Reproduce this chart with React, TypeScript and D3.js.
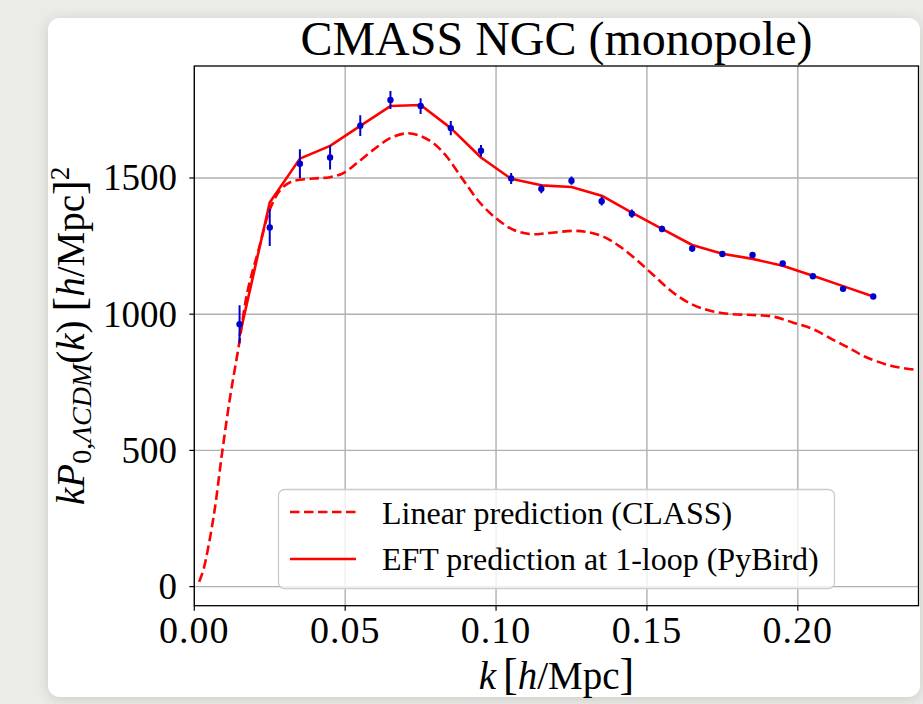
import React from "react";
import * as d3 from "d3";

// ---------------- data ----------------
const dataK = [0.015, 0.025, 0.035, 0.045, 0.055, 0.065, 0.075, 0.085, 0.095, 0.105, 0.115,
  0.125, 0.135, 0.145, 0.155, 0.165, 0.175, 0.185, 0.195, 0.205, 0.215, 0.225];
const dataP = [963, 1318, 1552, 1575, 1692, 1786, 1764, 1683, 1600, 1498, 1460,
  1490, 1415, 1369, 1313, 1241, 1221, 1217, 1186, 1139, 1093, 1065];
const dataErr = [70, 68, 53, 44, 38, 33, 29, 26, 21, 20, 16,
  15, 16, 15, 12, 12, 10, 10, 9, 8, 8, 7];

const eftP = [920, 1410, 1571, 1618, 1691, 1764, 1768, 1683, 1575, 1497, 1473,
  1467, 1435, 1373, 1313, 1254, 1222, 1203, 1178, 1141, 1103, 1065];

const linK = [0.0016, 0.003, 0.0064, 0.0092, 0.0119, 0.0147, 0.0175, 0.0213, 0.0252, 0.0285,
  0.0323, 0.0395, 0.045, 0.0494, 0.0538, 0.0593, 0.0649, 0.0704, 0.0748, 0.0792, 0.0836,
  0.0891, 0.0946, 0.1002, 0.1057, 0.1113, 0.1168, 0.1256, 0.13, 0.1355, 0.1411, 0.1466,
  0.1521, 0.1576, 0.1632, 0.1698, 0.1775, 0.1853, 0.1919, 0.1985, 0.2051, 0.2117, 0.2172,
  0.2223, 0.2311, 0.24];
const linP = [18, 61, 257, 490, 698, 881, 1077, 1236, 1389, 1456,
  1487, 1498, 1503, 1518, 1554, 1603, 1646, 1664, 1655, 1628, 1579,
  1493, 1410, 1350, 1310, 1294, 1297, 1306, 1302, 1285, 1248, 1199,
  1144, 1089, 1046, 1016, 1001, 997, 991, 969, 945, 906, 875,
  844, 810, 795];

const xTicks = [0, 0.05, 0.1, 0.15, 0.2];
const yTicks = [0, 500, 1000, 1500];
const legendLabels = ["Linear prediction (CLASS)", "EFT prediction at 1-loop (PyBird)"];
const title = "CMASS NGC (monopole)";

// ---------------- layout ----------------
const W = 923, H = 704;
const L = 194.3, R = 918.5, T = 66, B = 605.7;
const FONT = "'Liberation Serif', 'Times New Roman', serif";

export default function App() {
  const x = d3.scaleLinear().domain([0, 0.24]).range([L, R]);
  const y = d3.scaleLinear().domain([-70, 1911]).range([B, T]);

  const linLine = d3.line<number>()
    .x((_, i) => x(linK[i]))
    .y((d) => y(d))
    .curve(d3.curveCatmullRom.alpha(0.5));
  const eftLine = d3.line<number>()
    .x((_, i) => x(dataK[i]))
    .y((d) => y(d));

  const red = "#ff0000";
  const blue = "#0000cd";
  const grid = "#b0b0b0";

  return (
    <svg width={W} height={H} viewBox={`0 0 ${W} ${H}`}
      style={{ position: "absolute", left: 0, top: 0, display: "block" }}
      fontFamily={FONT}>
      <defs>
        <filter id="shadow" x="-10%" y="-10%" width="120%" height="120%">
          <feGaussianBlur in="SourceAlpha" stdDeviation="7" />
          <feOffset dx="0" dy="2" result="b" />
          <feComponentTransfer><feFuncA type="linear" slope="0.15" /></feComponentTransfer>
          <feMerge><feMergeNode /><feMergeNode in="SourceGraphic" /></feMerge>
        </filter>
        <clipPath id="plotclip"><rect x={L} y={T} width={R - L} height={B - T} /></clipPath>
      </defs>
      <rect x={0} y={0} width={W} height={H} fill="#ebebe7" />
      <rect x={48} y={18} width={872} height={679} rx={12} fill="#ffffff" filter="url(#shadow)" />

      {/* title */}
      <text x={(L + R) / 2} y={55} textAnchor="middle" fontSize={48} fill="#000">{title}</text>

      {/* grid */}
      <g>
        {xTicks.map((t) => (
          <line key={"gx" + t} x1={x(t)} x2={x(t)} y1={T} y2={B} stroke={grid} strokeWidth={1.4} />
        ))}
        {yTicks.map((t) => (
          <line key={"gy" + t} x1={L} x2={R} y1={y(t)} y2={y(t)} stroke={grid} strokeWidth={1.4} />
        ))}
      </g>

      <g clipPath="url(#plotclip)">
        <path d={linLine(linP) || ""} fill="none" stroke={red} strokeWidth={2.6}
          strokeDasharray="9.5 4.5" />
        <path d={eftLine(eftP) || ""} fill="none" stroke={red} strokeWidth={2.6}
          strokeLinejoin="round" />
        {dataK.map((k, i) => (
          <g key={"d" + k}>
            <line x1={x(k)} x2={x(k)} y1={y(dataP[i] - dataErr[i])} y2={y(dataP[i] + dataErr[i])}
              stroke={blue} strokeWidth={2} />
            <circle cx={x(k)} cy={y(dataP[i])} r={3.2} fill={blue} />
          </g>
        ))}
      </g>

      {/* frame */}
      <rect x={L} y={T} width={R - L} height={B - T} fill="none" stroke="#000" strokeWidth={1.3} />

      {/* x ticks */}
      {xTicks.map((t) => (
        <g key={"xt" + t}>
          <line x1={x(t)} x2={x(t)} y1={B} y2={B + 5} stroke="#000" strokeWidth={1.2} />
          <text x={x(t)} y={643} textAnchor="middle" fontSize={38} letterSpacing={1}>{t.toFixed(2)}</text>
        </g>
      ))}
      {/* y ticks */}
      {yTicks.map((t) => (
        <g key={"yt" + t}>
          <line x1={L - 5} x2={L} y1={y(t)} y2={y(t)} stroke="#000" strokeWidth={1.2} />
          <text x={177} y={y(t) + 12.5} textAnchor="end" fontSize={37}>{t}</text>
        </g>
      ))}

      {/* x label */}
      <text x={(L + R) / 2} y={689} textAnchor="middle" fontSize={39}>
        <tspan fontStyle="italic">k</tspan>
        <tspan dx={7} fontSize={44}>[</tspan>
        <tspan fontStyle="italic">h</tspan>
        <tspan>/Mpc</tspan>
        <tspan fontSize={44}>]</tspan>
      </text>

      {/* y label */}
      <text transform={`translate(84,${(T + B) / 2}) rotate(-90)`} textAnchor="middle" fontSize={39}>
        <tspan fontStyle="italic">kP</tspan>
        <tspan fontSize={28} dy={7}>0,</tspan>
        <tspan fontSize={28} fontStyle="italic">ΛCDM</tspan>
        <tspan dy={-7}>(</tspan>
        <tspan fontStyle="italic">k</tspan>
        <tspan>)</tspan>
        <tspan dx={9} fontSize={44}>[</tspan>
        <tspan fontStyle="italic">h</tspan>
        <tspan>/Mpc</tspan>
        <tspan fontSize={44}>]</tspan>
        <tspan fontSize={27} dy={-15}>2</tspan>
      </text>

      {/* legend */}
      <g>
        <rect x={278.5} y={489.5} width={556} height={99} rx={6} fill="#ffffff" fillOpacity={0.8}
          stroke="#cccccc" strokeWidth={1.3} />
        <line x1={290} x2={356} y1={512} y2={512} stroke={red} strokeWidth={2.6} strokeDasharray="9.5 4.5" />
        <line x1={290} x2={356} y1={559} y2={559} stroke={red} strokeWidth={2.6} />
        <text x={382} y={524} fontSize={32}>{legendLabels[0]}</text>
        <text x={382} y={570} fontSize={32}>{legendLabels[1]}</text>
      </g>
    </svg>
  );
}
